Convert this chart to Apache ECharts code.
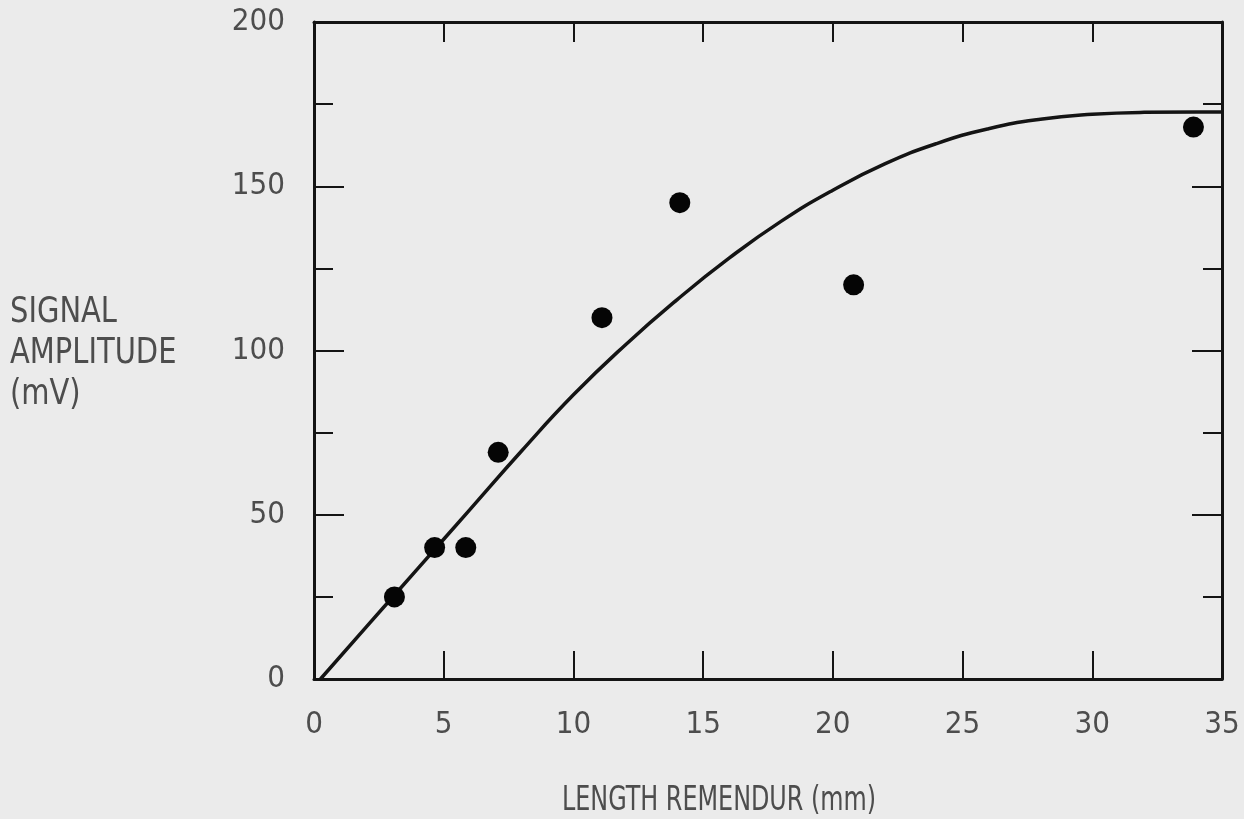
<!DOCTYPE html>
<html>
<head>
<meta charset="utf-8">
<title>Signal amplitude vs length remendur</title>
<script src="https://cdn.jsdelivr.net/npm/echarts@6/dist/echarts.min.js"></script>
<style>
  html, body { margin: 0; padding: 0; background: #ebebeb; }
  #chart { width: 1244px; height: 819px; }
</style>
</head>
<body>
<div id="chart"></div>
<script>
// Measured points: remendur length (mm) and signal amplitude (mV)
const lengthMm = [3.1, 4.65, 5.85, 7.1, 11.1, 14.1, 20.8, 33.9];
const amplitudeMv = [25, 40, 40, 69, 110, 145, 120, 168];

// Fitted response curve
const curveX = [0.25, 2, 4, 6, 8, 10, 12, 14, 16, 18, 20, 22, 24, 26, 28, 30, 32, 34, 35];
const curveY = [0, 15.7, 33.6, 51.5, 69.4, 86.5, 101.7, 115.5, 128.1, 139.3, 148.8, 156.8, 163.0, 167.5, 170.4, 171.9, 172.5, 172.6, 172.6];

// Axis ranges
const xRange = { min: 0, max: 35, step: 5 };
const yRange = { min: 0, max: 200, step: 50 };
const yTitleLines = ['SIGNAL', 'AMPLITUDE', '(mV)'];
const xTitle = 'LENGTH REMENDUR (mm)';

const FONT = "'Liberation Sans Narrow', 'DejaVu Sans Condensed', 'Liberation Sans', sans-serif";
const INK = '#141414';
const TEXT = '#4d4d4d';

const chart = echarts.init(document.getElementById('chart'), null, { renderer: 'canvas' });

const lineStyle = { color: INK, width: 3 };

function xAxisDef(pos, tickLen, showLabels) {
  return {
    type: 'value', position: pos,
    min: xRange.min, max: xRange.max, interval: xRange.step,
    axisLine: { show: true, onZero: false, lineStyle: lineStyle },
    axisTick: { show: true, inside: true, length: tickLen, lineStyle: { color: INK, width: 2 } },
    axisLabel: { show: showLabels, margin: 30, color: TEXT, fontSize: 31, fontFamily: FONT },
    splitLine: { show: false }
  };
}

function yAxisDef(pos, showLabels) {
  return {
    type: 'value', position: pos,
    min: yRange.min, max: yRange.max, interval: yRange.step,
    axisLine: { show: true, onZero: false, lineStyle: lineStyle },
    axisTick: { show: true, inside: true, length: 30, lineStyle: { color: INK, width: 2 } },
    minorTick: { show: true, splitNumber: 2, length: 19, lineStyle: { color: INK, width: 2 } },
    axisLabel: { show: showLabels, margin: 29, color: TEXT, fontSize: 31, fontFamily: FONT },
    splitLine: { show: false },
    minorSplitLine: { show: false }
  };
}

const curveData = curveX.map((x, i) => [x, curveY[i]]);
const pointData = lengthMm.map((x, i) => [x, amplitudeMv[i]]);

chart.setOption({
  backgroundColor: '#ebebeb',
  animation: false,
  grid: { left: 314, top: 22, width: 908, height: 657 },
  xAxis: [xAxisDef('bottom', 28, true), xAxisDef('top', 20, false)],
  yAxis: [yAxisDef('left', true), yAxisDef('right', false)],
  series: [
    {
      type: 'line', data: curveData, smooth: 0.5, showSymbol: false,
      lineStyle: { color: INK, width: 3.5 }, z: 2
    },
    {
      type: 'scatter', data: pointData, symbol: 'circle', symbolSize: 21,
      itemStyle: { color: '#050505', opacity: 1 }, z: 3
    }
  ],
  graphic: [
    {
      type: 'text', left: 10, top: 292, scaleX: 0.92,
      style: { text: yTitleLines.join('\n'), fill: TEXT, fontSize: 35, fontFamily: FONT, lineHeight: 41 }
    },
    {
      type: 'text', left: 562, top: 784, scaleX: 0.78,
      style: { text: xTitle, fill: TEXT, fontSize: 34, fontFamily: FONT }
    }
  ]
});
</script>
</body>
</html>
